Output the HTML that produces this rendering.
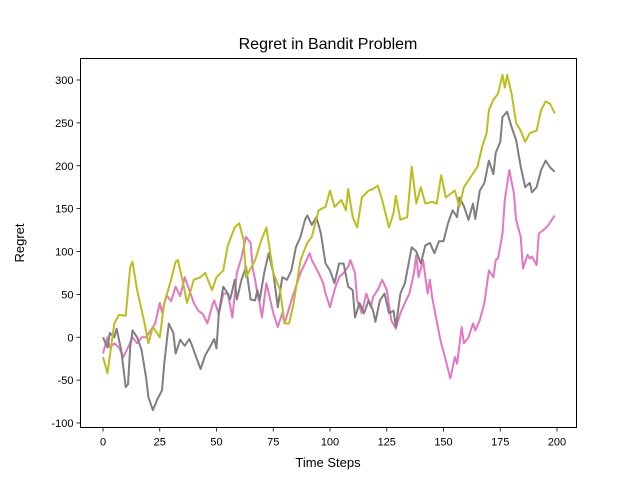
<!DOCTYPE html>
<html><head><meta charset="utf-8"><style>
body{margin:0;background:#fff;}
svg text{font-family:"Liberation Sans","DejaVu Sans",sans-serif;fill:#000;}
</style></head><body>
<svg id="chart" width="640" height="480" xmlns="http://www.w3.org/2000/svg">
<rect width="640" height="480" fill="#fff"/>
<text x="328" y="49" font-size="16" text-anchor="middle">Regret in Bandit Problem</text>
<text x="328" y="467" font-size="13" text-anchor="middle">Time Steps</text>
<text x="24" y="243" font-size="13" text-anchor="middle" transform="rotate(-90 24 243)">Regret</text>
<g id="plot"></g>
<rect x="80.5" y="58.5" width="496" height="369" fill="none" stroke="#000" stroke-width="1"/>
</svg>
<script>
const xTicks=[0,25,50,75,100,125,150,175,200];
const yTicks=[-100,-50,0,50,100,150,200,250,300];
const pinkSteps=[0,2,3,5,7,9,11,13,15,17,19,21,23,25,26,28,30,32,34,36,38,40,42,44,46,48,49,51,53,55,57,59,61,63,65,66,67,68,69,70,72,75,77,79,80,83,85,87,89,91,92,95,97,98,100,102,104,106,108,109,111,112,114,116,118,119,121,123,125,127,129,131,133,135,137,138,139,141,143,144,145,148,149,151,153,155,156,158,159,161,163,164,166,168,170,172,173,174,176,177,179,181,182,184,185,187,188,189,191,192,194,196,199];
const pinkValues=[-19,0,-12,-7,-12,-23,-12,0,-7,0,0,8,16,40,29,49,42,59,48,70,55,40,31,27,16,36,43,27,51,51,23,75,93,117,110,80,67,51,40,23,63,28,12,28,16,43,59,75,86,98,90,75,63,51,35,55,70,75,82,90,75,43,28,51,35,47,55,67,55,20,10,28,40,51,75,96,70,90,51,67,47,5,-7,-27,-48,-23,-31,12,-7,0,16,8,20,40,78,70,90,92,121,160,195,168,137,117,80,96,92,94,84,121,125,130,142];
const graySteps=[0,2,3,5,6,8,10,11,12,13,15,17,19,20,22,24,26,27,29,31,32,34,36,38,39,41,43,45,47,49,50,51,53,55,56,57,58,59,61,63,65,67,68,69,71,73,75,77,79,81,83,85,87,89,90,92,94,96,98,100,102,104,106,108,110,111,113,115,117,119,120,122,124,126,128,129,131,133,136,138,140,142,144,146,148,150,152,154,156,157,159,161,163,164,166,168,170,171,172,173,175,176,178,180,182,184,186,188,189,191,193,195,197,199];
const grayValues=[0,-12,5,0,10,-15,-58,-55,-12,8,0,-15,-47,-70,-85,-72,-62,-30,16,5,-19,-3,-10,-2,-8,-23,-37,-21,-12,-2,-13,28,59,51,44,55,67,44,67,82,44,43,55,43,75,98,75,35,70,67,78,105,117,137,142,131,140,121,86,78,63,86,86,59,55,23,40,28,43,31,18,43,51,28,31,12,51,63,105,100,86,107,110,98,112,112,133,148,140,163,153,137,156,138,171,180,206,198,190,215,228,257,263,245,230,199,175,180,169,175,195,206,198,193];
const oliveSteps=[0,2,5,7,10,12,13,15,18,20,22,25,27,30,32,33,35,37,40,43,45,48,50,53,55,58,60,62,63,65,67,70,72,75,78,80,82,84,87,90,92,95,98,100,102,105,107,108,110,112,114,117,119,121,123,126,128,129,131,134,136,138,140,142,145,147,149,151,153,155,157,159,161,163,165,167,169,170,172,174,176,177,178,180,182,184,186,188,191,193,195,197,199];
const oliveValues=[-23,-42,16,26,25,82,88,55,20,-7,12,0,40,67,88,90,67,40,67,70,75,55,70,78,107,128,133,113,70,80,90,115,128,75,55,16,16,40,90,110,117,148,152,171,152,160,148,173,140,128,163,171,173,177,160,128,145,165,137,140,199,156,175,156,158,156,189,163,167,171,152,175,183,191,199,222,238,265,277,284,306,291,306,284,250,241,228,238,241,265,275,272,261];

const L=80.5,R=576.5,T=58.5,B=427.5;
function xs(t){return 103+t*(557-103)/200;}
function ys(v){return 337.25-v*0.8575;}
const NS='http://www.w3.org/2000/svg';
const g=document.getElementById('plot');
function el(tag,attrs,parent){const e=document.createElementNS(NS,tag);for(const k in attrs)e.setAttribute(k,attrs[k]);(parent||g).appendChild(e);return e;}
xTicks.forEach(t=>{
  const x=xs(t);
  const tk=el('line',{x1:x,x2:x,y1:B,y2:B+4,stroke:'#000','stroke-width':0.8});
  
  
  const lb=el('text',{x:x,y:B+18,'font-size':11,'text-anchor':'middle'});
  lb.textContent=t;
  
  
});
yTicks.forEach(v=>{
  const y=ys(v);
  const tk=el('line',{x1:L-4,x2:L,y1:y,y2:y,stroke:'#000','stroke-width':0.8});
  
  
  const lb=el('text',{x:L-7,y:y+4,'font-size':11,'text-anchor':'end'});
  lb.textContent=v;
  
  
});
function series(steps,vals,color,name){
  const d=steps.map((t,i)=>(i?'L':'M')+xs(t).toFixed(1)+','+ys(vals[i]).toFixed(1)).join(' ');
  const p=el('path',{d:d,fill:'none',stroke:color,'stroke-width':2,'stroke-linejoin':'round'});
  
  
}
series(pinkSteps,pinkValues,'#e377c2','pink-series-line');
series(graySteps,grayValues,'#7f7f7f','gray-series-line');
series(oliveSteps,oliveValues,'#bcbd22','olive-series-line');
</script>
</body></html>
